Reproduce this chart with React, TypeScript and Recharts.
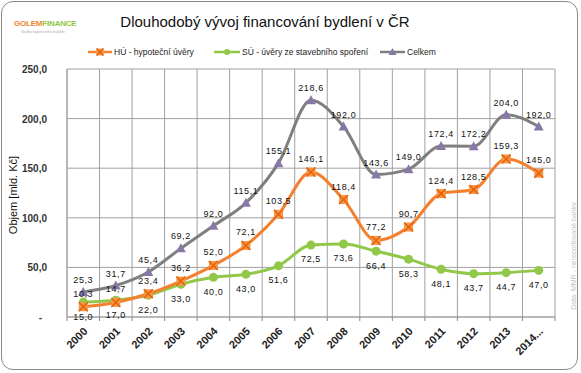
import { LineChart, Line, XAxis, YAxis, CartesianGrid, LabelList } from 'recharts';

const years = ['2000', '2001', '2002', '2003', '2004', '2005', '2006', '2007', '2008', '2009', '2010', '2011', '2012', '2013', '2014...'];
const hypoUvery = [10.3, 14.7, 23.4, 36.2, 52.0, 72.1, 103.5, 146.1, 118.4, 77.2, 90.7, 124.4, 128.5, 159.3, 145.0];
const stavebniSporeni = [15.0, 17.0, 22.0, 33.0, 40.0, 43.0, 51.6, 72.5, 73.6, 66.4, 58.3, 48.1, 43.7, 44.7, 47.0];
const celkem = [25.3, 31.7, 45.4, 69.2, 92.0, 115.1, 155.1, 218.6, 192.0, 143.6, 149.0, 172.4, 172.2, 204.0, 192.0];
const yTicks = [0, 50, 100, 150, 200, 250];

const data = years.map((year, i) => ({
  year,
  hu: hypoUvery[i],
  su: stavebniSporeni[i],
  total: celkem[i],
}));

const ORANGE = '#F47F2E';
const GREEN = '#92C84A';
const GRAY = '#7F7F7F';
const PURPLE = '#8878A8';
const FONT = '"Liberation Sans", Arial, sans-serif';

const fmt = (v: number) => v.toFixed(1).replace('.', ',');

function SquareX({ cx, cy, s = 4.5 }: any) {
  if (cx == null || cy == null) return null;
  return (
    <g>
      <rect x={cx - s} y={cy - s} width={2 * s} height={2 * s} fill="#F79646" />
      <path d={`M${cx - s},${cy - s}L${cx + s},${cy + s}M${cx + s},${cy - s}L${cx - s},${cy + s}`} stroke="#E4600A" strokeWidth={1.5} />
    </g>
  );
}

function Circle({ cx, cy }: any) {
  if (cx == null || cy == null) return null;
  return <circle cx={cx} cy={cy} r={4.5} fill={GREEN} />;
}

function Triangle({ cx, cy }: any) {
  if (cx == null || cy == null) return null;
  return <path d={`M${cx},${cy - 5}L${cx + 5},${cy + 4}L${cx - 5},${cy + 4}Z`} fill={PURPLE} />;
}

function XTick({ x, y, payload, index }: any) {
  const half = 16.27;
  return (
    <g>
      <line x1={x - half} y1={y - 8} x2={x - half} y2={y - 4} stroke="#888" />
      {index === years.length - 1 && <line x1={x + half} y1={y - 8} x2={x + half} y2={y - 4} stroke="#888" />}
      <text
        x={x + 5}
        y={y + 7}
        transform={`rotate(-45, ${x + 5}, ${y + 7})`}
        textAnchor="end"
        fontFamily={FONT}
        fontSize={11}
        fontWeight="bold"
        fill="#222"
      >
        {payload.value}
      </text>
    </g>
  );
}

function YTick({ y, payload }: any) {
  return (
    <text x={payload.value === 0 ? 42 : 47} y={y + 4} textAnchor="end" fontFamily={FONT} fontSize={10} fontWeight="bold" fill="#333">
      {payload.value === 0 ? '-' : fmt(payload.value)}
    </text>
  );
}

function ChartLegend() {
  const items = [
    { x: 88, w: 24, color: ORANGE, label: 'HÚ - hypoteční úvěry', m: 'sq' },
    { x: 214, w: 26, color: GREEN, label: 'SÚ - úvěry ze stavebního spoření', m: 'c' },
    { x: 380, w: 25, color: GRAY, label: 'Celkem', m: 't' },
  ];
  return (
    <svg width={581} height={14} style={{ display: 'block' }}>
      {items.map((it) => {
        const cx = it.x + it.w / 2;
        return (
          <g key={it.label}>
            <line x1={it.x} y1={7} x2={it.x + it.w} y2={7} stroke={it.color} strokeWidth={2.5} />
            {it.m === 'sq' && <SquareX cx={cx} cy={7} s={3.5} />}
            {it.m === 'c' && <circle cx={cx} cy={7} r={3} fill={GREEN} />}
            {it.m === 't' && <path d={`M${cx},${3}L${cx + 4},${10}L${cx - 4},${10}Z`} fill={PURPLE} />}
            <text x={it.x + it.w + 2} y={10} fontFamily={FONT} fontSize={8.5} fill="#222">
              {it.label}
            </text>
          </g>
        );
      })}
    </svg>
  );
}

const labelStyle = { fontFamily: FONT, fontSize: 9, fill: '#111', letterSpacing: 0.6 };

export default function App() {
  return (
    <div style={{ position: 'absolute', left: 0, top: 0, width: 581, height: 373, background: '#fff', fontFamily: FONT }}>
      <div
        style={{
          position: 'absolute',
          left: 1,
          top: 1,
          width: 577,
          height: 369,
          border: '1.5px solid #8a8a8a',
          borderRadius: 12,
          boxSizing: 'border-box',
        }}
      />
      <div style={{ position: 'absolute', left: 14, top: 19, fontSize: 8, fontWeight: 'bold', letterSpacing: -0.2 }}>
        <span style={{ color: '#F0862B' }}>GOLEM</span>
        <span style={{ color: '#8DC63F' }}>FINANCE</span>
      </div>
      <div style={{ position: 'absolute', left: 21, top: 30, fontSize: 3.5, color: '#aaa' }}>Služby hypotečního makléře</div>
      <div style={{ position: 'absolute', left: 0, width: 530, top: 13, textAlign: 'center', fontSize: 15, color: '#111' }}>
        Dlouhodobý vývoj financování bydlení v ČR
      </div>
      <div style={{ position: 'absolute', left: 0, top: 45 }}>
        <ChartLegend />
      </div>
      <div
        style={{
          position: 'absolute',
          left: 13,
          top: 195,
          transform: 'translate(-50%, -50%) rotate(-90deg)',
          fontSize: 11,
          whiteSpace: 'nowrap',
          color: '#111',
        }}
      >
        Objem [mld. Kč]
      </div>
      <div
        style={{
          position: 'absolute',
          left: 573,
          top: 256,
          transform: 'translate(-50%, -50%) rotate(-90deg)',
          fontSize: 7,
          whiteSpace: 'nowrap',
          color: '#c4c4c4',
        }}
      >
        Data: MMR - nereportované banky
      </div>
      <div style={{ position: 'absolute', left: 0, top: 0 }}>
        <LineChart width={581} height={373} data={data} margin={{ top: 69, right: 26, bottom: 6, left: 27 }}>
          <CartesianGrid
            stroke="#A0A0A0"
            strokeWidth={1}
            verticalCoordinatesGenerator={({ offset }: any) =>
              Array.from({ length: years.length + 1 }, (_, i) => offset.left + (i * offset.width) / years.length)
            }
          />
          <XAxis
            dataKey="year"
            interval={0}
            padding={{ left: 16.27, right: 16.27 }}
            tick={<XTick />}
            tickLine={false}
            axisLine={{ stroke: '#A0A0A0' }}
            height={50}
          />
          <YAxis domain={[0, 250]} ticks={yTicks} tick={<YTick />} tickLine={false} axisLine={{ stroke: '#A0A0A0' }} width={40} />
          <Line type="monotone" dataKey="su" stroke={GREEN} strokeWidth={3} dot={<Circle />} isAnimationActive={false}>
            <LabelList dataKey="su" position="bottom" offset={11} formatter={(v: any) => fmt(v)} style={labelStyle} />
          </Line>
          <Line type="monotone" dataKey="hu" stroke={ORANGE} strokeWidth={3} dot={<SquareX />} isAnimationActive={false}>
            <LabelList dataKey="hu" position="top" offset={10} formatter={(v: any) => fmt(v)} style={labelStyle} />
          </Line>
          <Line type="monotone" dataKey="total" stroke={GRAY} strokeWidth={3} dot={<Triangle />} isAnimationActive={false}>
            <LabelList dataKey="total" position="top" offset={9} formatter={(v: any) => fmt(v)} style={labelStyle} />
          </Line>
        </LineChart>
      </div>
    </div>
  );
}
